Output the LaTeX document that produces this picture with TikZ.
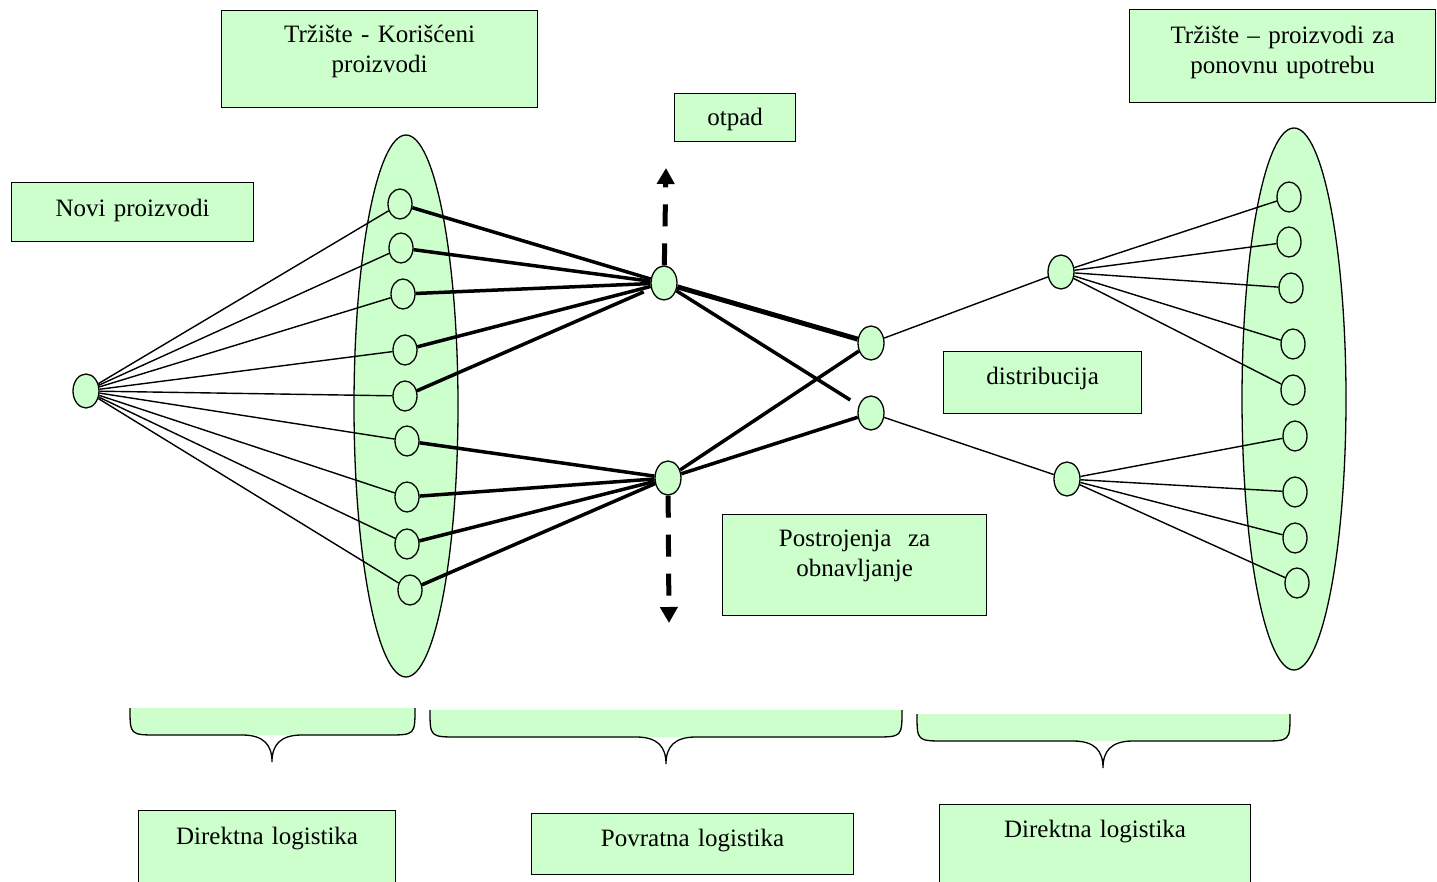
\documentclass[tikz,border=0pt]{standalone}
\usepackage{fontspec}
\setmainfont{Liberation Serif}
\usetikzlibrary{arrows.meta, shapes.geometric}
\definecolor{boxgreen}{HTML}{CCFFCC}

\tikzset{
  box/.style={draw, line width=1.2pt, fill=boxgreen, inner sep=0pt, anchor=north west,
    align=center, font=\fontsize{25}{29.5}\selectfont},
  market/.style={ellipse, draw, line width=1.3pt, fill=boxgreen, inner sep=0pt,
    minimum width=104pt, minimum height=542pt},
  hub/.style={ellipse, draw, line width=1.3pt, fill=boxgreen, inner sep=0pt,
    minimum width=26pt, minimum height=34pt},
  dot/.style={ellipse, draw, line width=1.3pt, inner sep=0pt,
    minimum width=24pt, minimum height=30pt},
  link/.style={line width=1.4pt},
  flow/.style={line width=3.5pt},
  bigflow/.style={line width=5pt},
  waste/.style={line width=5pt, dash pattern=on 22pt off 17pt,
    -{Triangle[length=16pt,width=17pt]}},
}

\begin{document}
\begin{tikzpicture}[x=1pt, y=-1pt]
    \useasboundingbox (0,0) rectangle (1437,882);

    \node[market] (used) at (406,406) {};
    \node[market] (reuse) at (1294,399) {};

    \foreach \n/\x/\y in {1/400/204, 2/401/248, 3/403/294, 4/405/350, 5/405/396,
                          6/407/441, 7/407/497, 8/407/544, 9/410/590}
        \node[dot] (l\n) at (\x,\y) {};
    \foreach \n/\x/\y in {1/1289/197, 2/1289/242, 3/1291/288, 4/1293/344, 5/1293/390,
                          6/1295/436, 7/1295/492, 8/1295/538, 9/1297/583}
        \node[dot] (r\n) at (\x,\y) {};

    \node[hub] (new) at (86,391) {};
    \node[hub] (colA) at (664,283) {};
    \node[hub] (colB) at (668,478) {};
    \node[hub] (recA) at (871,343) {};
    \node[hub] (recB) at (871,413) {};
    \node[hub] (disA) at (1061,272) {};
    \node[hub] (disB) at (1067,479) {};

    \coordinate (up) at (666,168);
    \coordinate (down) at (669,623);

    \foreach \n in {1,...,9}
        \draw[link] (new) -- (l\n);
    \foreach \n in {1,...,4}
        \draw[flow] (l\n) -- (colA);
    \draw[flow, shorten >=8pt] (l5) -- (colA);
    \foreach \n in {6,...,9}
        \draw[flow] (l\n) -- (colB);

    \draw[bigflow] (colA) -- (recA);
    \draw[flow, shorten >=10pt] (colA) -- (recB);
    \draw[flow] (colB) -- (recA);
    \draw[flow] (colB) -- (recB);

    \draw[link] (recA) -- (disA);
    \draw[link] (recB) -- (disB);
    \foreach \n in {1,...,5}
        \draw[link] (disA) -- (r\n);
    \foreach \n in {6,...,9}
        \draw[link] (disB) -- (r\n);

    \draw[waste] (colA) -- (up);
    \draw[waste] (colB) -- (down);

    \foreach \xa/\xb/\yt/\yb/\xm in {130/415/708/735/272, 430/902/710/737/666, 917/1290/714/741/1103} {
        \fill[boxgreen] (\xa,\yt) .. controls (\xa,\yb) .. (\xa+28,\yb)
            -- (\xb-28,\yb) .. controls (\xb,\yb) .. (\xb,\yt) -- cycle;
        \draw[line width=1.3pt] (\xa,\yt) .. controls (\xa,\yb) .. (\xa+28,\yb)
            -- (\xm-30,\yb) .. controls (\xm-8,\yb) and (\xm,\yb+10) .. (\xm,\yb+27)
            .. controls (\xm,\yb+10) and (\xm+8,\yb) .. (\xm+30,\yb)
            -- (\xb-28,\yb) .. controls (\xb,\yb) .. (\xb,\yt);
    }

    \node[box, text width=316pt, text height=32pt, text depth=65pt] (usedlbl) at (221,10)
        {Tržište - Korišćeni\\proizvodi};
    \node[box, text width=121pt, text height=32pt, text depth=16pt] (wastelbl) at (674,93) {otpad};
    \node[box, text width=242pt, text height=34pt, text depth=25pt] (newlbl) at (11,182) {Novi proizvodi};
    \node[box, text width=306pt, text height=34pt, text depth=59pt] (reuselbl) at (1129,9)
        {Tržište – proizvodi za\\ponovnu upotrebu};
    \node[box, text width=198pt, text height=33pt, text depth=29pt] (distlbl) at (943,351) {distribucija};
    \node[box, text width=264pt, text height=32pt, text depth=69pt] (plantlbl) at (722,514)
        {Postrojenja~\ za\\obnavljanje};
    \node[box, text width=257pt, text height=34pt, text depth=56pt] (fwdA) at (138,810) {Direktna logistika};
    \node[box, text width=322pt, text height=33pt, text depth=28pt] (rev) at (531,813) {Povratna logistika};
    \node[box, text width=311pt, text height=33pt, text depth=63pt] (fwdB) at (939,804) {Direktna logistika};
\end{tikzpicture}
\end{document}
